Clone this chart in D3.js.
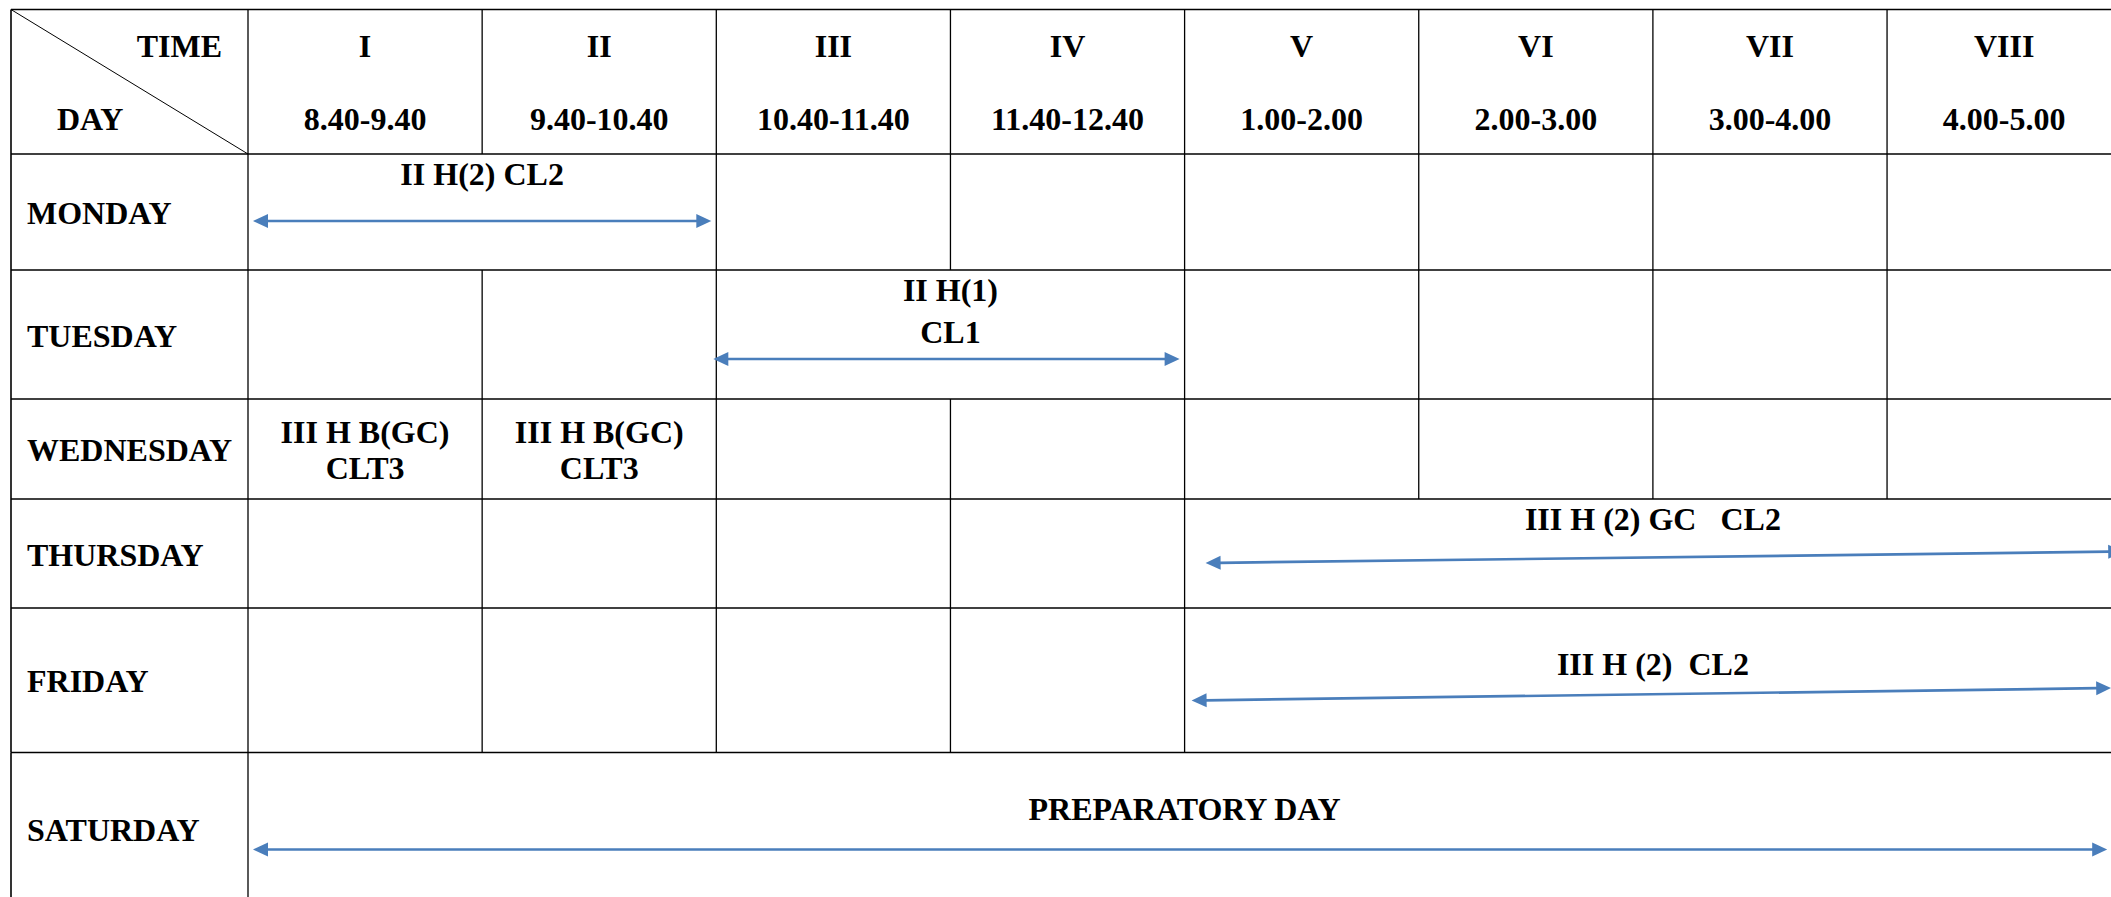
<!DOCTYPE html>
<html>
<head>
<meta charset="utf-8">
<script src="https://cdn.jsdelivr.net/npm/d3@7"></script>
<style>
    body { margin: 0; background: #fff; overflow: hidden; }
    text { font-family: "Liberation Serif", "Times New Roman", serif; font-weight: bold; fill: #000; white-space: pre; }
</style>
</head>
<body>
<div id="timetable"></div>
<script>
// timetable data
var days = ["MONDAY", "TUESDAY", "WEDNESDAY", "THURSDAY", "FRIDAY", "SATURDAY"];
var periodNumerals = ["I", "II", "III", "IV", "V", "VI", "VII", "VIII"];
var periodTimes = ["8.40-9.40", "9.40-10.40", "10.40-11.40", "11.40-12.40",
    "1.00-2.00", "2.00-3.00", "3.00-4.00", "4.00-5.00"];

// one entry per class block: day index, first period, period after the last one
var sessionDay = [0, 1, 2, 2, 3, 4, 5];
var sessionFrom = [0, 2, 0, 1, 4, 4, 0];
var sessionTo = [2, 4, 1, 2, 8, 8, 8];
var sessionLines = [
    ["II H(2) CL2"],
    ["II H(1)", "CL1"],
    ["III H B(GC)", "CLT3"],
    ["III H B(GC)", "CLT3"],
    ["III H (2) GC   CL2"],
    ["III H (2)  CL2"],
    ["PREPARATORY DAY"]
];
var sessionArrow = [true, true, false, false, true, true, true];

(function () {
    "use strict";
    var w = 2111, h = 897, fontSize = 32, arrowColor = "#4a7ebb";

    // layout only (pixel offsets inside each cell)
    var rowEdges = [9.5, 154, 270, 399, 499, 608, 752.5, 905];
    var tableLeft = 11;
    var textTop = [31, 31, 44, 44, 31, 67, 67.5], lineGap = [0, 42, 36, 36, 0, 0, 0];
    var arrowInL = [5, -3, 0, 0, 21, 7, 5], arrowInR = [-5, -5, 0, 0, 2, -10, -14];
    var arrowYL = [67, 89, 0, 0, 64, 92.5, 97], arrowYR = [67, 89, 0, 0, 52.5, 80, 97];

    var x = d3.scaleLinear().domain([0, periodNumerals.length]).range([248, 248 + 8 * 234.15]);
    var y = d3.scaleLinear().domain(d3.range(rowEdges.length)).range(rowEdges);

    var svg = d3.select("#timetable").append("svg").attr("width", w).attr("height", h);
    var grid = svg.append("g").attr("stroke", "#000").attr("fill", "none");

    // horizontal rules
    grid.selectAll("line.row").data(rowEdges).enter().append("line")
        .attr("class", "row")
        .attr("x1", tableLeft).attr("x2", x(8))
        .attr("y1", function (d) { return d; }).attr("y2", function (d) { return d; })
        .attr("stroke-width", 1.6);

    // vertical rules, skipping the ones hidden by merged cells
    var verticals = [];
    d3.range(rowEdges.length - 1).forEach(function (r) {
        verticals.push({x: tableLeft, r: r});
        d3.range(0, 8).forEach(function (k) {
            var hidden = false;
            sessionDay.forEach(function (d, i) {
                if (d + 1 === r && sessionFrom[i] < k && sessionTo[i] > k) hidden = true;
            });
            if (!hidden) verticals.push({x: x(k), r: r});
        });
    });
    grid.selectAll("line.col").data(verticals).enter().append("line")
        .attr("class", "col")
        .attr("x1", function (d) { return d.x; }).attr("x2", function (d) { return d.x; })
        .attr("y1", function (d) { return y(d.r); }).attr("y2", function (d) { return y(d.r + 1); })
        .attr("stroke-width", function (d) { return d.x === tableLeft ? 1.6 : 1.3; });

    // corner cell with the diagonal
    grid.append("line").attr("x1", tableLeft).attr("y1", y(0)).attr("x2", x(0)).attr("y2", y(1))
        .attr("stroke-width", 1);
    svg.append("text").text("TIME").attr("x", 222).attr("y", y(0) + 47.5)
        .attr("text-anchor", "end").attr("font-size", fontSize);
    svg.append("text").text("DAY").attr("x", 57).attr("y", y(0) + 120.5)
        .attr("font-size", fontSize);

    // period headers
    svg.selectAll("text.num").data(periodNumerals).enter().append("text")
        .attr("class", "num").text(function (d) { return d; })
        .attr("x", function (d, i) { return (x(i) + x(i + 1)) / 2; })
        .attr("y", y(0) + 47.5)
        .attr("text-anchor", "middle").attr("font-size", fontSize);
    svg.selectAll("text.time").data(periodTimes).enter().append("text")
        .attr("class", "time").text(function (d) { return d; })
        .attr("x", function (d, i) { return (x(i) + x(i + 1)) / 2; })
        .attr("y", y(0) + 120.5)
        .attr("text-anchor", "middle").attr("font-size", fontSize);

    // day names
    svg.selectAll("text.day").data(days).enter().append("text")
        .attr("class", "day").text(function (d) { return d; })
        .attr("x", 27)
        .attr("y", function (d, i) { return (y(i + 1) + y(i + 2)) / 2 + 12; })
        .attr("font-size", fontSize);

    // class blocks
    sessionDay.forEach(function (d, i) {
        var top = y(d + 1), cx = (x(sessionFrom[i]) + x(sessionTo[i])) / 2;
        svg.selectAll(null).data(sessionLines[i]).enter().append("text")
            .text(function (t) { return t; })
            .attr("x", cx)
            .attr("y", function (t, j) { return top + textTop[i] + j * lineGap[i]; })
            .attr("text-anchor", "middle").attr("font-size", fontSize);

        if (!sessionArrow[i]) return;
        var x1 = x(sessionFrom[i]) + arrowInL[i], y1 = top + arrowYL[i],
            x2 = x(sessionTo[i]) + arrowInR[i], y2 = top + arrowYR[i];
        var ang = Math.atan2(y2 - y1, x2 - x1), len = 15, half = 7;
        var ux = Math.cos(ang), uy = Math.sin(ang);
        var g = svg.append("g").attr("fill", arrowColor);
        g.append("line")
            .attr("x1", x1 + ux * (len - 1)).attr("y1", y1 + uy * (len - 1))
            .attr("x2", x2 - ux * (len - 1)).attr("y2", y2 - uy * (len - 1))
            .attr("stroke", arrowColor).attr("stroke-width", 2.7);
        // arrow heads at both ends
        [[x1, y1, 1], [x2, y2, -1]].forEach(function (p) {
            var bx = p[0] + p[2] * ux * len, by = p[1] + p[2] * uy * len;
            g.append("path").attr("d", "M" + p[0] + "," + p[1] +
                "L" + (bx - uy * half) + "," + (by + ux * half) +
                "L" + (bx + uy * half) + "," + (by - ux * half) + "Z");
        });
    });
}());
</script>
</body>
</html>
